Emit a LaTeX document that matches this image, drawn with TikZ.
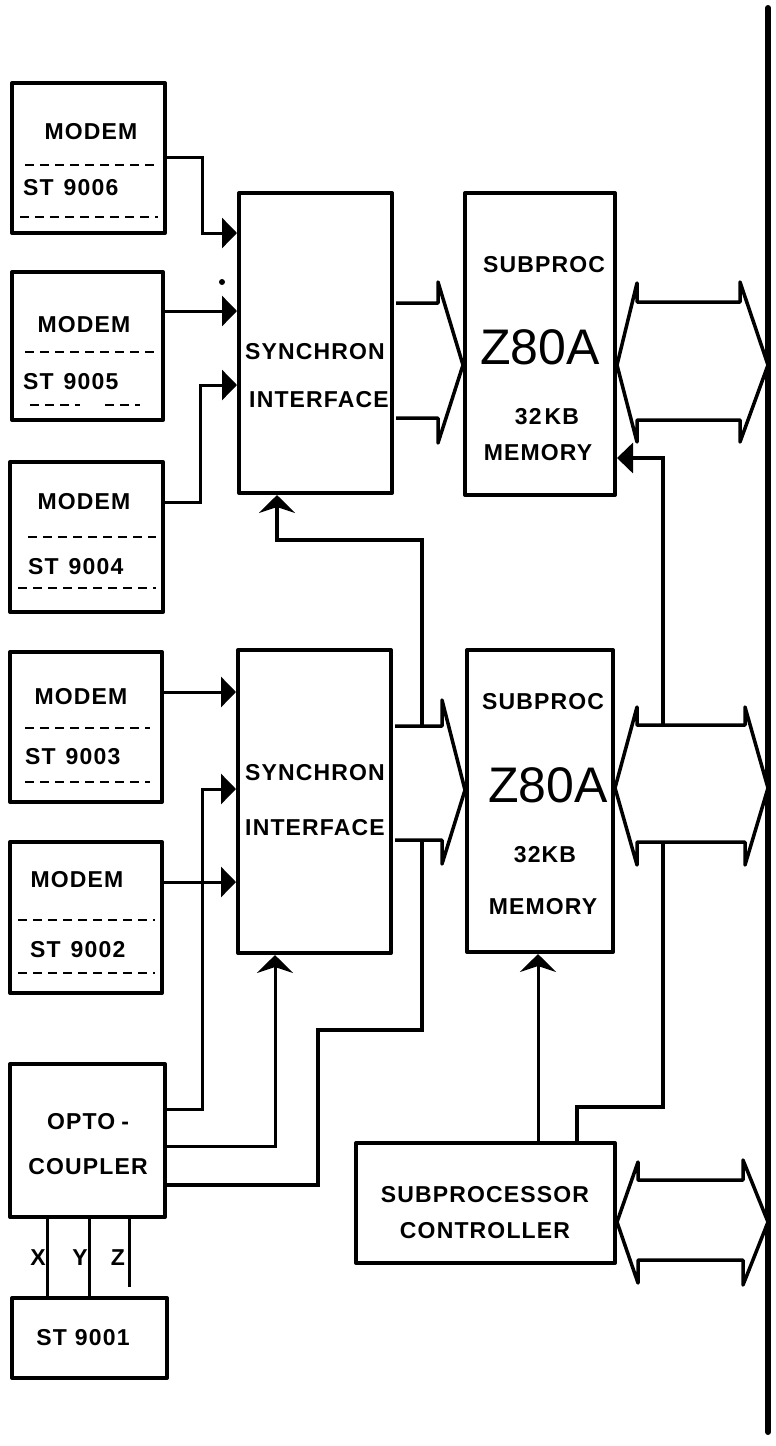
\documentclass[tikz,border=0pt]{standalone}
\usepackage{fontspec}
\setmainfont{Liberation Sans}
\newfontfamily\lblfont{Liberation Sans Bold}[LetterSpace=5]
\usetikzlibrary{arrows.meta}
\begin{document}
\begin{tikzpicture}[x=1pt,y=-1pt,
  box/.style={draw, line width=4pt, inner sep=0pt, line join=round},
  lbl/.style={font=\lblfont\fontsize{23}{25}\selectfont, inner sep=0pt},
  big/.style={font=\fontsize{50}{54}\selectfont, inner sep=0pt},
  wire/.style={line width=3pt, line join=miter},
  dashline/.style={dash pattern=on 9pt off 6pt, line width=2pt},
  inarrow/.style={-{Triangle[length=15pt,width=30pt]}},
  uparrow/.style={-{Stealth[length=18pt,width=36pt,inset=6pt]}},
  bus/.style={line width=3.5pt, fill=white, line join=round}
]
\useasboundingbox (0,0) rectangle (776,1446);

% ---------- boxes ----------
\node[box, minimum width=153pt, minimum height=150pt] (m6) at (88.5,158) {};
\node[box, minimum width=151pt, minimum height=148pt] (m5) at (87.5,346) {};
\node[box, minimum width=153pt, minimum height=150pt] (m4) at (86.5,537) {};
\node[box, minimum width=152pt, minimum height=150pt] (m3) at (86,727) {};
\node[box, minimum width=152pt, minimum height=151pt] (m2) at (86,917.5) {};
\node[box, minimum width=155pt, minimum height=153pt] (opto) at (87.5,1140.5) {};
\node[box, minimum width=155pt, minimum height=80pt] (st1) at (89.5,1338) {};
\node[box, minimum width=153pt, minimum height=300pt] (si1) at (315.5,343) {};
\node[box, minimum width=153pt, minimum height=303pt] (si2) at (314.5,801.5) {};
\node[box, minimum width=150pt, minimum height=302pt] (sp1) at (540,344) {};
\node[box, minimum width=146pt, minimum height=302pt] (sp2) at (540,801) {};
\node[box, minimum width=259pt, minimum height=120pt] (ctrl) at (485.5,1203) {};

% ---------- dashed separators in modem boxes ----------
\draw[dashline] (25,165) -- (158,165);
\draw[dashline] (20,217) -- (158,217);
\draw[dashline] (25,352) -- (156,352);
\draw[dashline] (30,405) -- (80,405);
\draw[dashline] (105,405) -- (140,405);
\draw[dashline] (28,537) -- (156,537);
\draw[dashline] (18,588) -- (156,588);
\draw[dashline] (25,728) -- (150,728);
\draw[dashline] (25,782) -- (150,782);
\draw[dashline] (18,920) -- (155,920);
\draw[dashline] (18,973) -- (155,973);

% ---------- texts ----------
\node[lbl] (m6a) at (91,132) {MODEM};
\node[lbl, anchor=west] (m6b) at (23,188) {ST\hspace{10pt}9006};
\node[lbl] (m5a) at (84,325) {MODEM};
\node[lbl, anchor=west] (m5b) at (23,382) {ST\hspace{10pt}9005};
\node[lbl] (m4a) at (84,502) {MODEM};
\node[lbl, anchor=west] (m4b) at (28,567) {ST\hspace{10pt}9004};
\node[lbl] (m3a) at (81,697) {MODEM};
\node[lbl, anchor=west] (m3b) at (25,757) {ST\hspace{10pt}9003};
\node[lbl] (m2a) at (77,880) {MODEM};
\node[lbl, anchor=west] (m2b) at (30,950) {ST\hspace{10pt}9002};
\node[lbl] (opa) at (88,1122) {OPTO\hspace{6pt}-};
\node[lbl] (opb) at (88,1167) {COUPLER};
\node[lbl] (st1t) at (83,1338) {ST\hspace{8pt}9001};

\node[lbl] (si1a) at (315,352) {SYNCHRON};
\node[lbl] (si1b) at (319,400) {INTERFACE};
\node[lbl] (si2a) at (315,773) {SYNCHRON};
\node[lbl] (si2b) at (315,828) {INTERFACE};

\node[lbl] (sp1a) at (544,265) {SUBPROC};
\node[big] (sp1b) at (540,347) {Z80A};
\node[lbl] (sp1c) at (547,417) {32\hspace{3pt}KB};
\node[lbl] (sp1d) at (538,453) {MEMORY};
\node[lbl] (sp2a) at (543,702) {SUBPROC};
\node[big] (sp2b) at (548,785) {Z80A};
\node[lbl] (sp2c) at (545,855) {32KB};
\node[lbl] (sp2d) at (543,907) {MEMORY};

\node[lbl] (cta) at (485,1195) {SUBPROCESSOR};
\node[lbl] (ctb) at (485,1231) {CONTROLLER};

\node[lbl] (lx) at (38,1258) {X};
\node[lbl] (ly) at (80,1258) {Y};
\node[lbl] (lz) at (118,1258) {Z};

% ---------- system bus ----------
\coordinate (bustop) at (768,8);
\coordinate (busbot) at (768,1432);
\draw[line width=6pt, line cap=round] (bustop) -- (busbot);

% ---------- inputs to synchron interface 1 ----------
\draw[wire, inarrow] (m6.east |- 0,157) -- (202,157) -- (202,233) -- (si1.west |- 0,233);
\draw[wire, inarrow] (m5.east |- 0,311) -- (si1.west |- 0,311);
\draw[wire, inarrow] (m4.east |- 0,502) -- (200,502) -- (200,385) -- (si1.west |- 0,385);
\fill (222,282) circle (3pt);

% ---------- inputs to synchron interface 2 ----------
\draw[wire, inarrow] (m3.east |- 0,692) -- (si2.west |- 0,692);
\draw[wire, inarrow] (opto.east |- 0,1109) -- (202,1109) -- (202,789) -- (si2.west |- 0,789);
\draw[wire, inarrow] (m2.east |- 0,882) -- (si2.west |- 0,882);

% ---------- opto-coupler control lines ----------
\draw[wire, uparrow] (opto.east |- 0,1146) -- (275,1146) -- (si2.south -| 275,0);
\draw[wire, line width=3.5pt, uparrow] (opto.east |- 0,1185) -- (318,1185) -- (318,1030) -- (422,1030) -- (422,540) -- (277,540) -- (si1.south -| 277,0);

% ---------- controller lines ----------
\draw[wire, uparrow] (ctrl.north -| 538,0) -- (sp2.south -| 538,0);
\draw[wire, line width=3.5pt, -{Triangle[length=16pt,width=30pt]}] (ctrl.north -| 577,0) -- (577,1107) -- (663,1107) -- (663,458) -- (sp1.east |- 0,458);

% ---------- X Y Z lines ----------
\coordinate (zend) at (129,1287);
\draw[wire] (opto.south -| 47,0) -- (st1.north -| 47,0);
\draw[wire] (opto.south -| 89,0) -- (st1.north -| 89,0);
\draw[wire] (opto.south -| 129,0) -- (zend);

% ---------- bus arrows ----------
\draw[bus] ([xshift=2pt]si1.east |- 0,303) -- (438,303) -- (438,282) -- (sp1.west |- 0,365) -- (438,443) -- (438,418) -- ([xshift=2pt]si1.east |- 0,418);
\draw[bus] ([xshift=2pt]si2.east |- 0,726) -- (442,726) -- (442,700) -- (sp2.west |- 0,790) -- (442,864) -- (442,840) -- ([xshift=2pt]si2.east |- 0,840);

\draw[bus] (sp1.east |- 0,365) -- (637,283) -- (637,302) -- (740,302) -- (740,282) -- (bustop |- 0,365) -- (740,442) -- (740,420) -- (637,420) -- (637,442) -- cycle;
\draw[bus] (sp2.east |- 0,788) -- (637,707) -- (637,725) -- (745,725) -- (745,707) -- (bustop |- 0,788) -- (745,865) -- (745,842) -- (637,842) -- (637,865) -- cycle;
\draw[bus] (ctrl.east |- 0,1222) -- (638,1162) -- (638,1180) -- (743,1180) -- (743,1160) -- (bustop |- 0,1222) -- (743,1285) -- (743,1260) -- (638,1260) -- (638,1283) -- cycle;

\end{tikzpicture}
\end{document}
